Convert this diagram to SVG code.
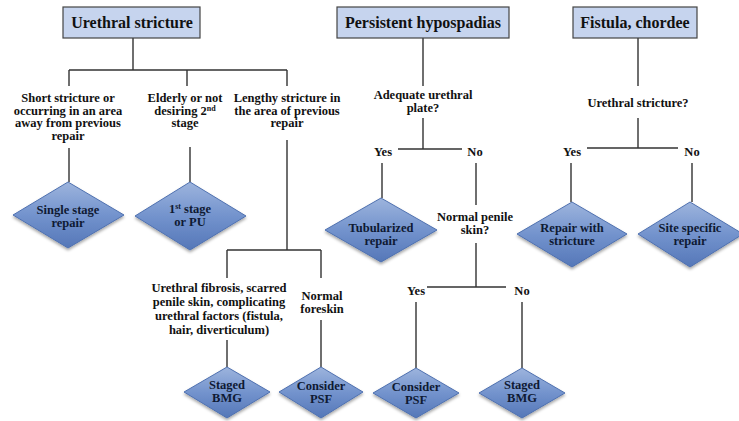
<svg xmlns="http://www.w3.org/2000/svg" width="739" height="421" viewBox="0 0 739 421">
<defs>
<linearGradient id="dg" x1="0" y1="0" x2="0" y2="1">
<stop offset="0" stop-color="#9db4dd"/>
<stop offset="0.5" stop-color="#7393cd"/>
<stop offset="1" stop-color="#5577b8"/>
</linearGradient>
<filter id="sh" x="-20%" y="-20%" width="140%" height="150%">
<feDropShadow dx="0" dy="2" stdDeviation="1.5" flood-color="#000" flood-opacity="0.35"/>
</filter>
</defs>
<style>
text{font-family:"Liberation Serif","DejaVu Serif",serif;font-weight:bold;fill:#111;text-anchor:middle}
.h{font-size:16px}
.t{font-size:12.5px}
.d{font-size:12.5px;fill:#0f1a33}
.hb{fill:#c6d4ee;stroke:#444;stroke-width:1.2}
.dm{fill:url(#dg);stroke:#4f71b0;stroke-width:1;filter:url(#sh)}
.c path{fill:none;stroke:#333;stroke-width:1.4}
</style>
<rect width="739" height="421" fill="#fff"/>

<g class="c" id="connectors">
<path d="M133 37V70M69 70H287M69 70V86M187 70V86M287 70V86"/>
<path d="M69 148V182M190 147V182"/>
<path d="M287 140V250M227 250H321M227 250V278M321 250V278"/>
<path d="M227 340V367M321 320V367"/>
<path d="M423 37V86M423 118V149M398 149H462"/>
<path d="M382 163V198M476 163V205M476 243V287M427 287H506"/>
<path d="M416 302V368M522 302V368"/>
<path d="M638 37V86M638 118V148M587 148H678"/>
<path d="M571 163V202M692 163V202"/>
</g>

<g id="n-urethral-stricture"><rect class="hb" x="63" y="7" width="137" height="31"/><text class="h" x="132" y="28">Urethral stricture</text></g>
<g id="n-persistent-hypospadias"><rect class="hb" x="337" y="7" width="172" height="31"/><text class="h" x="423" y="28">Persistent hypospadias</text></g>
<g id="n-fistula-chordee"><rect class="hb" x="573" y="7" width="124" height="31"/><text class="h" x="635" y="28">Fistula, chordee</text></g>

<g id="n-short"><text class="t" x="68" y="102">Short stricture or</text><text class="t" x="68" y="114.5">occurring in an area</text><text class="t" x="68" y="127">away from previous</text><text class="t" x="68" y="139.5">repair</text></g>
<g id="n-elderly"><text class="t" x="185" y="102">Elderly or not</text><text class="t" x="185" y="114.5">desiring 2<tspan font-size="8" dy="-4">nd</tspan></text><text class="t" x="185" y="127">stage</text></g>
<g id="n-lengthy"><text class="t" x="287" y="102">Lengthy stricture in</text><text class="t" x="287" y="114.5">the area of previous</text><text class="t" x="287" y="127">repair</text></g>

<g id="n-single"><polygon class="dm" points="68,182 124,215 68,248 13,215"/><text class="d" x="68" y="214">Single stage</text><text class="d" x="68" y="227">repair</text></g>
<g id="n-first"><polygon class="dm" points="190,182 246,216 190,250 135,216"/><text class="d" x="190" y="213">1<tspan font-size="8" dy="-4">st</tspan><tspan dy="4"> stage</tspan></text><text class="d" x="190" y="226">or PU</text></g>

<g id="n-fibrosis"><text class="t" x="219" y="292">Urethral fibrosis, scarred</text><text class="t" x="219" y="306">penile skin, complicating</text><text class="t" x="219" y="320">urethral factors (fistula,</text><text class="t" x="219" y="334">hair, diverticulum)</text></g>
<g id="n-foreskin"><text class="t" x="322" y="300">Normal</text><text class="t" x="322" y="313">foreskin</text></g>
<g id="n-staged1"><polygon class="dm" points="227,367 270,392 227,418 184,392"/><text class="d" x="227" y="389">Staged</text><text class="d" x="227" y="402">BMG</text></g>
<g id="n-psf1"><polygon class="dm" points="321,367 363,392 321,418 279,392"/><text class="d" x="321" y="390">Consider</text><text class="d" x="321" y="403">PSF</text></g>

<g id="n-adequate"><text class="t" x="423" y="99">Adequate urethral</text><text class="t" x="423" y="112">plate?</text></g>
<g id="l-yes1"><text class="t" x="383" y="156">Yes</text></g>
<g id="l-no1"><text class="t" x="475" y="156">No</text></g>
<g id="n-tubularized"><polygon class="dm" points="381,198 437,230 381,262 325,230"/><text class="d" x="381" y="232">Tubularized</text><text class="d" x="381" y="245">repair</text></g>
<g id="n-penile"><text class="t" x="475" y="221">Normal penile</text><text class="t" x="475" y="234">skin?</text></g>
<g id="l-yes2"><text class="t" x="416" y="295">Yes</text></g>
<g id="l-no2"><text class="t" x="522" y="295">No</text></g>
<g id="n-psf2"><polygon class="dm" points="416,368 459,393 416,418 373,393"/><text class="d" x="416" y="391">Consider</text><text class="d" x="416" y="404">PSF</text></g>
<g id="n-staged2"><polygon class="dm" points="522,368 565,393 522,418 479,393"/><text class="d" x="522" y="389">Staged</text><text class="d" x="522" y="402">BMG</text></g>

<g id="n-ustricture-q"><text class="t" x="638" y="107">Urethral stricture?</text></g>
<g id="l-yes3"><text class="t" x="572" y="156">Yes</text></g>
<g id="l-no3"><text class="t" x="692" y="156">No</text></g>
<g id="n-repair-with"><polygon class="dm" points="572,202 627,234 572,267 517,234"/><text class="d" x="572" y="232">Repair with</text><text class="d" x="572" y="245">stricture</text></g>
<g id="n-site"><polygon class="dm" points="690,202 743,234 690,267 638,234"/><text class="d" x="690" y="232">Site specific</text><text class="d" x="690" y="245">repair</text></g>
</svg>
